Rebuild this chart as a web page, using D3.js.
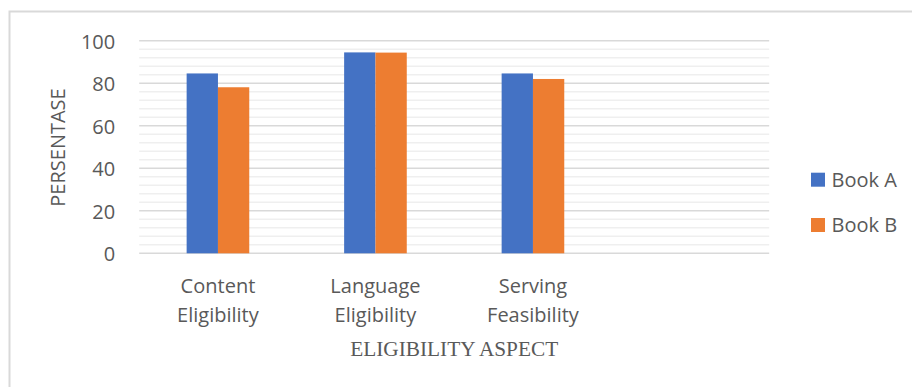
<!DOCTYPE html>
<html>
<head>
<meta charset="utf-8">
<script src="https://cdn.jsdelivr.net/npm/d3@7"></script>
<style>
  html, body { margin: 0; padding: 0; background: #fff; }
  svg { display: block; }
</style>
</head>
<body>
<svg id="chart" width="912" height="387"></svg>
<script>
// Eligibility scores per aspect for the two books
const categories = ["Content Eligibility", "Language Eligibility", "Serving Feasibility"];
const seriesNames = ["Book A", "Book B"];
const bookA = [84.6, 94.5, 84.6];
const bookB = [78.1, 94.4, 82.0];
const yTicks = [0, 20, 40, 60, 80, 100];
const colors = ["#4472C4", "#ED7D31"];

const svg = d3.select("#chart");
const W = 912, H = 387;
const plot = { left: 139.2, right: 769.2, top: 40.7, bottom: 253.3 };
const textColor = "#595959";
const sans = "'Open Sans', sans-serif";

// outer chart frame
svg.append("rect")
  .attr("x", 9.5).attr("y", 11.5)
  .attr("width", W + 10).attr("height", H + 10)
  .attr("fill", "none").attr("stroke", "#d9d9d9").attr("stroke-width", 2);

// the category axis keeps one trailing empty slot
const slots = categories.concat([" "]);
const x0 = d3.scaleBand().domain(slots).range([plot.left, plot.right]);
const bw = x0.bandwidth();
const gapWidth = 3.03;
const barW = bw / (seriesNames.length + gapWidth);
const x1 = d3.scaleBand().domain(seriesNames)
  .range([bw / 2 - barW, bw / 2 + barW]);

const y = d3.scaleLinear().domain([0, 100]).range([plot.bottom, plot.top]);

// minor gridlines
const minor = d3.range(0, 101, 4).filter(v => v % 20 !== 0);
svg.append("g").selectAll("line").data(minor).join("line")
  .attr("x1", plot.left).attr("x2", plot.right)
  .attr("y1", d => y(d)).attr("y2", d => y(d))
  .attr("stroke", "#efefef").attr("stroke-width", 1.5);

// major gridlines
svg.append("g").selectAll("line").data(yTicks).join("line")
  .attr("x1", plot.left).attr("x2", plot.right)
  .attr("y1", d => y(d)).attr("y2", d => y(d))
  .attr("stroke", "#d9d9d9").attr("stroke-width", 1.5);

// bars
const rows = categories.map((c, i) => ({ cat: c, values: [bookA[i], bookB[i]] }));
const groups = svg.append("g").selectAll("g").data(rows).join("g")
  .attr("transform", d => `translate(${x0(d.cat)},0)`);
groups.selectAll("rect")
  .data(d => d.values.map((v, j) => ({ key: seriesNames[j], value: v, j })))
  .join("rect")
  .attr("x", d => x1(d.key))
  .attr("width", x1.bandwidth())
  .attr("y", d => y(d.value))
  .attr("height", d => y(0) - y(d.value))
  .attr("fill", d => colors[d.j]);

// y axis labels
const yAxis = d3.axisLeft(y).tickValues(yTicks).tickSize(0).tickPadding(24);
const gy = svg.append("g").attr("transform", `translate(${plot.left},1)`).call(yAxis);
gy.select(".domain").remove();
gy.selectAll("text")
  .attr("font-family", sans).attr("font-size", 20).attr("fill", textColor);

// category labels (two lines each)
const cl = svg.append("g").selectAll("text").data(categories).join("text")
  .attr("text-anchor", "middle")
  .attr("font-family", sans).attr("font-size", 20).attr("fill", textColor)
  .attr("transform", d => `translate(${x0(d) + bw / 2},0)`);
cl.selectAll("tspan").data(d => d.split(" ")).join("tspan")
  .attr("x", 0)
  .attr("y", (d, i) => 292.5 + i * 29)
  .text(d => d);

// axis titles
svg.append("text")
  .attr("x", (plot.left + plot.right) / 2).attr("y", 356)
  .attr("text-anchor", "middle")
  .attr("font-family", "'Liberation Serif', 'Times New Roman', serif")
  .attr("font-size", 21.3).attr("fill", textColor)
  .text("ELIGIBILITY ASPECT");

svg.append("text")
  .attr("transform", "translate(64.5,147.5) rotate(-90)")
  .attr("text-anchor", "middle")
  .attr("font-family", sans).attr("font-size", 20).attr("fill", textColor)
  .text("PERSENTASE");

// legend
const legend = svg.append("g").selectAll("g").data(seriesNames).join("g")
  .attr("transform", (d, i) => `translate(811,${172.7 + i * 45.3})`);
legend.append("rect")
  .attr("width", 14).attr("height", 14)
  .attr("fill", (d, i) => colors[i]);
legend.append("text")
  .attr("x", 20.5).attr("y", 14)
  .attr("font-family", sans).attr("font-size", 20).attr("fill", textColor)
  .text(d => d);
</script>
</body>
</html>
